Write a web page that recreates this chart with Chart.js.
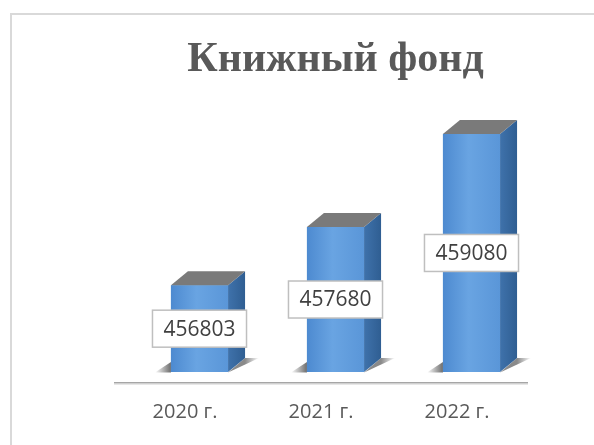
<!DOCTYPE html>
<html>
<head>
<meta charset="utf-8">
<script src="https://cdn.jsdelivr.net/npm/chart.js@4/dist/chart.umd.min.js"></script>
<style>
  html, body { margin: 0; padding: 0; background: #fff; }
  #wrap { position: relative; width: 594px; height: 445px; }
</style>
</head>
<body>
<div id="wrap"><canvas id="fund"></canvas></div>
<script>
// data
const years = ['2020 г.', '2021 г.', '2022 г.'];
const books = [456803, 457680, 459080];
const chartTitle = 'Книжный фонд';
const axisMin = 455500;
const axisMax = 459500;

const depthX = 17;   // 3d depth of the boxes
const depthY = -14;

// frame, floor and x labels
const framePlugin = {
    id: 'frame',
    beforeDraw(chart) {
        const ctx = chart.ctx;
        ctx.save();
        ctx.strokeStyle = '#d9d9d9';
        ctx.lineWidth = 2;
        ctx.strokeRect(11, 14, 800, 800);
        ctx.restore();
    },
    afterDraw(chart) {
        const ctx = chart.ctx;
        const area = chart.chartArea;
        const xs = chart.scales.x;
        ctx.save();
        // floor edge
        ctx.fillStyle = '#a6a6a6';
        ctx.fillRect(area.left - 17.5, area.bottom + 10, area.right - area.left + 6, 1.5);
        ctx.fillStyle = '#d0d0d0';
        ctx.fillRect(area.left - 17.5, area.bottom + 11.5, area.right - area.left + 6, 1);
        // category labels
        ctx.fillStyle = '#595959';
        ctx.font = '20px "Open Sans"';
        ctx.textAlign = 'center';
        ctx.textBaseline = 'middle';
        years.forEach(function(label, i) {
            ctx.fillText(label, xs.getPixelForValue(i) - 14.5, area.bottom + 40);
        });
        ctx.restore();
    }
};

// 3d boxes and value labels
const boxPlugin = {
    id: 'box3d',
    afterDatasetsDraw(chart) {
        const ctx = chart.ctx;
        const meta = chart.getDatasetMeta(0);
        ctx.save();
        meta.data.forEach(function(bar, i) {
            const p = bar.getProps(['x', 'y', 'base', 'width'], true);
            const L = p.x - p.width / 2, R = p.x + p.width / 2;
            const T = p.y, B = p.base;

            // shadow on the floor
            let sg = ctx.createLinearGradient(L - 16, 0, L, 0);
            sg.addColorStop(0, 'rgba(60,60,60,0)');
            sg.addColorStop(1, 'rgba(60,60,60,0.75)');
            ctx.fillStyle = sg;
            ctx.beginPath();
            ctx.moveTo(L - 16, B + 0.5);
            ctx.lineTo(L, B - 10);
            ctx.lineTo(L, B + 0.5);
            ctx.closePath();
            ctx.fill();
            let sg2 = ctx.createLinearGradient(R + depthX, 0, R + depthX + 14, 0);
            sg2.addColorStop(0, 'rgba(60,60,60,0.6)');
            sg2.addColorStop(1, 'rgba(60,60,60,0)');
            ctx.fillStyle = sg2;
            ctx.beginPath();
            ctx.moveTo(R, B + 0.5);
            ctx.lineTo(R + depthX, B + depthY);
            ctx.lineTo(R + depthX + 14, B + depthY);
            ctx.closePath();
            ctx.fill();

            // front
            let fg = ctx.createLinearGradient(L, 0, R, 0);
            fg.addColorStop(0, '#4d8ad0');
            fg.addColorStop(0.45, '#69a4e2');
            fg.addColorStop(1, '#5a96d8');
            ctx.fillStyle = fg;
            ctx.fillRect(L, T, R - L, B - T);

            // side
            let rg = ctx.createLinearGradient(R, 0, R + depthX, 0);
            rg.addColorStop(0, '#3f72ab');
            rg.addColorStop(1, '#2f5e92');
            ctx.fillStyle = rg;
            ctx.beginPath();
            ctx.moveTo(R, T);
            ctx.lineTo(R + depthX, T + depthY);
            ctx.lineTo(R + depthX, B + depthY);
            ctx.lineTo(R, B);
            ctx.closePath();
            ctx.fill();

            // top
            ctx.fillStyle = '#7a7a7a';
            ctx.beginPath();
            ctx.moveTo(L, T);
            ctx.lineTo(L + depthX, T + depthY);
            ctx.lineTo(R + depthX, T + depthY);
            ctx.lineTo(R, T);
            ctx.closePath();
            ctx.fill();

            // value label box
            const txt = String(books[i]);
            ctx.font = '21px "Open Sans"';
            const tw = ctx.measureText(txt).width;
            const bw = tw + 22, bh = 37;
            const cy = (T + B) / 2;
            ctx.fillStyle = '#ffffff';
            ctx.fillRect(p.x - bw / 2, cy - bh / 2, bw, bh);
            ctx.strokeStyle = '#bfbfbf';
            ctx.lineWidth = 1.5;
            ctx.strokeRect(p.x - bw / 2, cy - bh / 2, bw, bh);
            ctx.fillStyle = '#404040';
            ctx.textAlign = 'center';
            ctx.textBaseline = 'middle';
            ctx.fillText(txt, p.x, cy + 1);
        });
        ctx.restore();
    }
};

const ctx = document.getElementById('fund');
const chart = new Chart(ctx, {
    type: 'bar',
    data: {
        labels: years,
        datasets: [{
            data: books,
            base: axisMin,
            backgroundColor: '#5b9bd5',
            borderWidth: 0,
            categoryPercentage: 1,
            barPercentage: 0.42
        }]
    },
    options: {
        responsive: true,
        maintainAspectRatio: false,
        animation: false,
        layout: {
            padding: { left: 131.5, right: 54.5, top: 0, bottom: 73 }
        },
        scales: {
            x: { display: false, offset: true },
            y: { display: false, beginAtZero: false, min: axisMin, max: axisMax }
        },
        plugins: {
            legend: { display: false },
            tooltip: { enabled: false },
            title: {
                display: true,
                text: chartTitle,
                color: '#595959',
                font: { family: '"Liberation Serif"', size: 42, weight: 'bold', lineHeight: 1.2 },
                padding: { top: 35, bottom: 20.6 }
            }
        }
    },
    plugins: [framePlugin, boxPlugin]
});
</script>
</body>
</html>
